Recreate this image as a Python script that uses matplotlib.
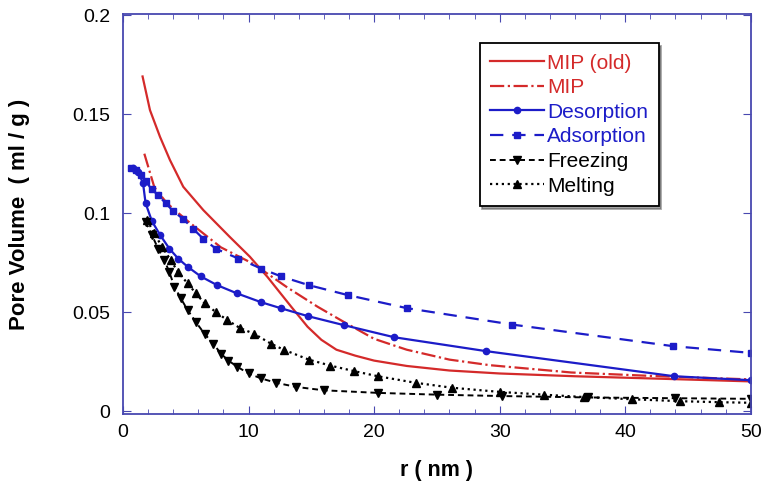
import numpy as np
import matplotlib
matplotlib.use('Agg')
import matplotlib.pyplot as plt
import matplotlib.ticker as ticker

plt.rcParams.update({'font.family': ['Liberation Sans', 'DejaVu Sans'], 'font.size': 12})

# ---- data ----
mip_old_r = [1.56, 2.15, 2.95, 3.74, 4.8, 6.4, 8.5, 10.1, 11.5, 13.4, 14.7, 15.8, 17, 18.5, 20, 22.6,
             26, 30, 36, 42, 50]
mip_old_v = [0.169, 0.152, 0.1385, 0.1268, 0.1133, 0.1015, 0.088, 0.078, 0.0678, 0.0527, 0.0426, 0.036,
             0.031, 0.028, 0.0255, 0.0228, 0.0205, 0.019, 0.0176, 0.0165, 0.015]

mip_r = [1.7, 2.5, 3.5, 5.15, 7.8, 10.4, 13.1, 15.5, 17.6, 20, 22.6, 26, 29.2, 35.7, 42.3, 50]
mip_v = [0.130, 0.113, 0.105, 0.096, 0.0827, 0.0743, 0.0624, 0.0527, 0.045, 0.0365, 0.031, 0.026,
         0.0232, 0.0195, 0.0177, 0.016]

des_r = [0.8, 1.2, 1.6, 1.8, 2.3, 2.95, 3.7, 4.4, 5.15, 6.2, 7.5, 9.1, 11.0, 12.6, 14.7, 17.6, 21.6,
         28.9, 43.9, 50]
des_v = [0.123, 0.121, 0.115, 0.105, 0.096, 0.089, 0.082, 0.077, 0.0729, 0.068, 0.0636, 0.0594, 0.055,
         0.0519, 0.048, 0.0434, 0.0373, 0.0303, 0.0176, 0.0156]

ads_r = [0.65, 1.0, 1.4, 1.8, 2.3, 2.8, 3.4, 4.0, 4.8, 5.6, 6.4, 7.4, 9.2, 11.0, 12.6, 14.8, 17.9, 22.6,
         31.0, 43.8, 50]
ads_v = [0.1227, 0.122, 0.119, 0.116, 0.112, 0.109, 0.105, 0.101, 0.097, 0.092, 0.087, 0.082, 0.077,
         0.072, 0.068, 0.0636, 0.0586, 0.052, 0.0437, 0.0328, 0.0294]

frz_r = [1.8, 2.3, 2.8, 3.3, 3.7, 4.1, 4.6, 5.15, 5.8, 6.5, 7.2, 7.8, 8.4, 9.1, 10.0, 11.0, 12.2, 13.8,
         16.0, 20.3, 25.0, 30.2, 37.0, 44.0, 50]
frz_v = [0.0956, 0.089, 0.082, 0.0763, 0.070, 0.0628, 0.057, 0.051, 0.045, 0.039, 0.034, 0.029, 0.0255,
         0.0224, 0.019, 0.0165, 0.0143, 0.0122, 0.0105, 0.0092, 0.0083, 0.0076, 0.0069, 0.0065, 0.0062]

mel_r = [1.9, 2.5, 3.1, 3.8, 4.4, 5.15, 5.8, 6.5, 7.4, 8.3, 9.3, 10.45, 11.8, 12.8, 14.8, 16.5, 18.4,
         20.3, 23.3, 26.2, 30, 33.5, 36.7, 40.5, 44.4, 47.5, 50]
mel_v = [0.0966, 0.0897, 0.083, 0.0763, 0.070, 0.0645, 0.0595, 0.0544, 0.050, 0.046, 0.042, 0.039, 0.034,
         0.031, 0.026, 0.023, 0.0202, 0.0176, 0.0143, 0.0118, 0.0097, 0.0083, 0.0071, 0.006, 0.005,
         0.0045, 0.0042]

RED = '#d42a2a'
BLUE = '#1c1cc8'
FRAME = '#4848b0'

fig = plt.figure(figsize=(7.61, 4.86), dpi=100)
ax = fig.add_axes([0.1616, 0.148, 0.825, 0.823])

ax.plot(mip_old_r, mip_old_v, '-', color=RED, lw=1.6, label='MIP (old)')
ax.plot(mip_r, mip_v, '-.', color=RED, lw=1.6, label='MIP')
ax.plot(des_r, des_v, '-', color=BLUE, lw=1.6, marker='o', ms=4.5, label='Desorption')
ax.plot(ads_r, ads_v, '--', color=BLUE, lw=1.6, marker='s', ms=5, dashes=(6, 4), label='Adsorption')
ax.plot(frz_r, frz_v, '--', color='black', lw=1.4, marker='v', ms=5.5, dashes=(3, 2), label='Freezing')
ax.plot(mel_r, mel_v, ':', color='black', lw=1.6, marker='^', ms=5.5, label='Melting')

ax.set_xlim(0, 50)
ax.set_ylim(-0.0015, 0.2005)
ax.xaxis.set_major_locator(ticker.MultipleLocator(10))
ax.xaxis.set_minor_locator(ticker.MultipleLocator(2))
ax.yaxis.set_major_locator(ticker.MultipleLocator(0.05))
ax.yaxis.set_major_formatter(ticker.FuncFormatter(lambda v, p: f'{v:g}'))
ax.tick_params(which='both', direction='in', top=True, right=True, color=FRAME, labelsize=14)
ax.tick_params(which='major', length=6)
ax.tick_params(which='minor', length=3.5)
ax.tick_params(axis='y', pad=9)
ax.tick_params(axis='x', pad=7)
for s in ax.spines.values():
    s.set_color(FRAME)
    s.set_linewidth(1.3)

ax.set_xlabel('r ( nm )', fontsize=15.5, fontweight='bold')
ax.set_ylabel('Pore Volume  ( ml / g )', fontsize=16, fontweight='bold')
ax.xaxis.set_label_coords(0.5, -0.115)
ax.yaxis.set_label_coords(-0.148, 0.5)

leg = ax.legend(loc='upper left', bbox_to_anchor=(0.568, 0.9275), borderaxespad=0, fontsize=15,
                frameon=True, fancybox=False, shadow=True, handlelength=2.6, handletextpad=0.15,
                labelspacing=0.27, borderpad=0.5, framealpha=1)
leg.get_frame().set_edgecolor('black')
leg.get_frame().set_linewidth(1.3)
for t, c in zip(leg.get_texts(), [RED, RED, BLUE, BLUE, 'black', 'black']):
    t.set_color(c)

fig.savefig('out.png', dpi=100)
